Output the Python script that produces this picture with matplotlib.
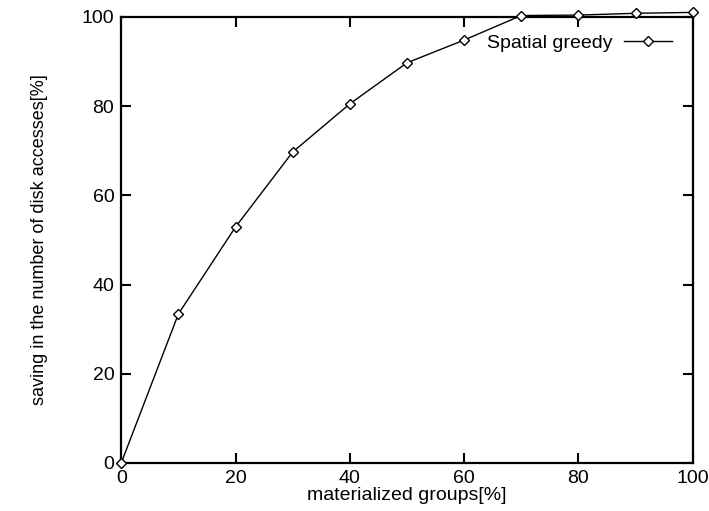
import matplotlib
matplotlib.use("Agg")
import matplotlib.pyplot as plt

materialized = [0, 10, 20, 30, 40, 50, 60, 70, 80, 90, 100]
saving = [0, 33.4, 52.9, 69.7, 80.5, 89.7, 94.8, 100.3, 100.4, 100.8, 101.0]
xticks = [0, 20, 40, 60, 80, 100]
yticks = [0, 20, 40, 60, 80, 100]

plt.rcParams['font.family'] = ['Liberation Sans', 'DejaVu Sans']

fig = plt.figure(figsize=(7.09, 5.11), dpi=100)
ax = fig.add_axes([0.171, 0.094, 0.806, 0.873])
ax.plot(materialized, saving, color='black', lw=1.0, marker='D', markersize=5,
        markerfacecolor='white', markeredgecolor='black', markeredgewidth=1.0,
        label='Spatial greedy', clip_on=False, zorder=5)
ax.set_xlim(0, 100)
ax.set_ylim(0, 100)
ax.set_xticks(xticks)
ax.set_yticks(yticks)
ax.tick_params(direction='in', top=True, right=True, length=7, width=1.5,
               labelsize=14, pad=5)
for s in ax.spines.values():
    s.set_linewidth(1.6)
ax.set_xlabel('materialized groups[%]', fontsize=14, labelpad=0)
ax.set_ylabel('saving in the number of disk accesses[%]', fontsize=13, labelpad=24)
ax.legend(loc='upper right', frameon=False, markerfirst=False, fontsize=14,
          bbox_to_anchor=(0.995, 1.0), handlelength=2.5, handletextpad=0.6)
fig.savefig('out.png', dpi=100)
